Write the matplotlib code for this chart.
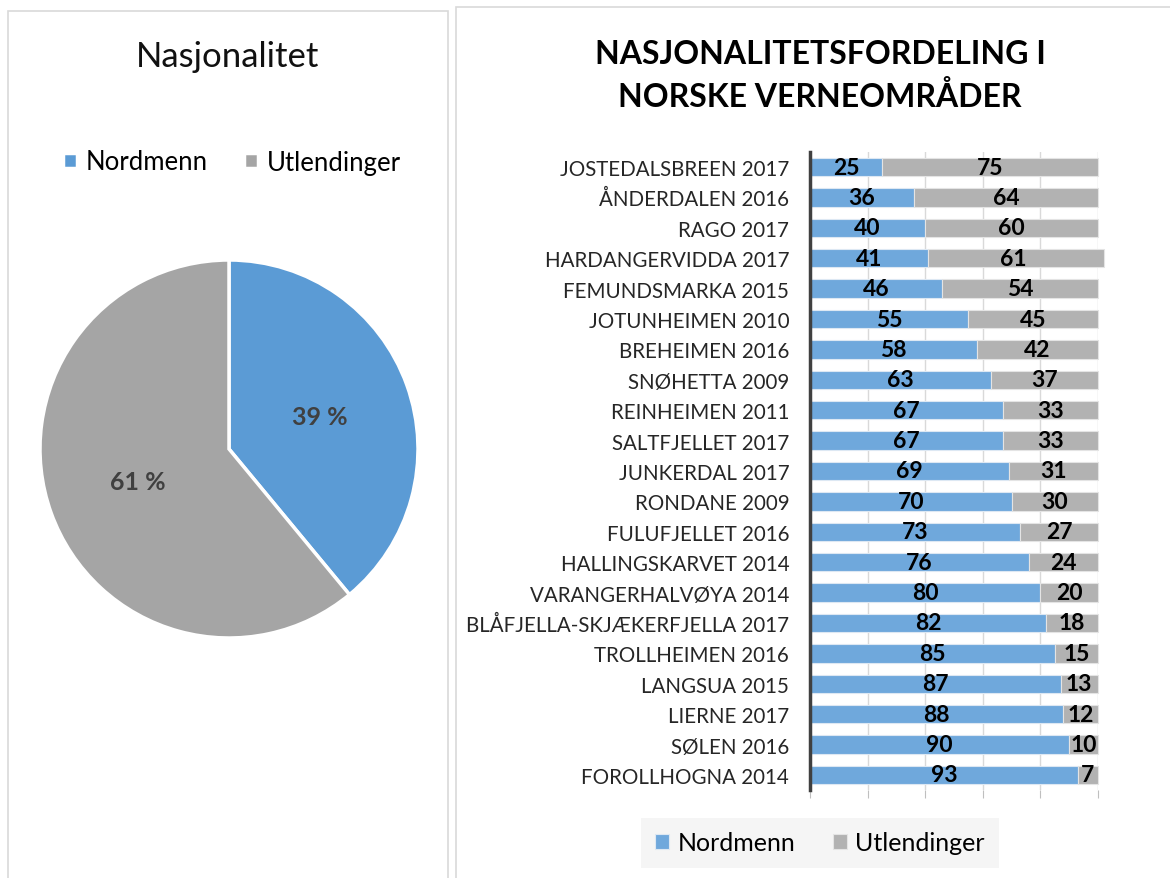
import matplotlib.pyplot as plt
from matplotlib.patches import Rectangle
import numpy as np

plt.rcParams["font.family"] = ["Lato", "DejaVu Sans"]

# pie
pie_labels = ["Nordmenn", "Utlendinger"]
pie_values = [39, 61]

# stacked bars, top to bottom
areas = ["JOSTEDALSBREEN 2017", "ÅNDERDALEN 2016", "RAGO 2017", "HARDANGERVIDDA 2017",
         "FEMUNDSMARKA 2015", "JOTUNHEIMEN 2010", "BREHEIMEN 2016", "SNØHETTA 2009",
         "REINHEIMEN 2011", "SALTFJELLET 2017", "JUNKERDAL 2017", "RONDANE 2009",
         "FULUFJELLET 2016", "HALLINGSKARVET 2014", "VARANGERHALVØYA 2014",
         "BLÅFJELLA-SKJÆKERFJELLA 2017", "TROLLHEIMEN 2016", "LANGSUA 2015",
         "LIERNE 2017", "SØLEN 2016", "FOROLLHOGNA 2014"]
nordmenn = [25, 36, 40, 41, 46, 55, 58, 63, 67, 67, 69, 70, 73, 76, 80, 82, 85, 87, 88, 90, 93]
utlendinger = [75, 64, 60, 61, 54, 45, 42, 37, 33, 33, 31, 30, 27, 24, 20, 18, 15, 13, 12, 10, 7]

W, H = 1170, 879
fig = plt.figure(figsize=(W / 100, H / 100), dpi=100)

# panel borders
fig.patches.append(Rectangle((8 / W, -0.01), 440 / W, 1 - 12 / H + 0.01, transform=fig.transFigure,
                             fill=False, edgecolor="#D9D9D9", lw=1.2))
fig.patches.append(Rectangle((456 / W, -0.01), 1 - 456 / W + 0.01, 1 - 8 / H + 0.01,
                             transform=fig.transFigure, fill=False, edgecolor="#D9D9D9", lw=1.2))

# ---- pie
pie_blue, pie_gray = "#5B9BD5", "#A5A5A5"
cx, cy, r = 229, 450, 189
ax1 = fig.add_axes([(cx - r) / W, 1 - (cy + r) / H, 2 * r / W, 2 * r / H])
wedges, _, autotexts = ax1.pie(pie_values, colors=[pie_blue, pie_gray], startangle=90, counterclock=False,
                               autopct=lambda p: f"{p:.0f} %", pctdistance=0.51,
                               wedgeprops=dict(edgecolor="white", linewidth=2.5),
                               textprops=dict(fontsize=18, fontweight="bold", color="#404040"))
ax1.set_xlim(-1, 1)
ax1.set_ylim(-1, 1)
ax1.axis("off")
fig.text(228 / W, 1 - 57 / H, "Nasjonalitet", ha="center", va="center", fontsize=25, color="#111111")
fig.legend(wedges, pie_labels, loc="center", bbox_to_anchor=(232 / W, 1 - 163 / H), ncol=2, frameon=False,
           fontsize=18.5, handlelength=0.55, handleheight=0.55, handletextpad=0.35, columnspacing=1.4)

# ---- stacked bars
bar_blue, bar_gray = "#6FA8DC", "#B2B2B2"
ax2 = fig.add_axes([810 / W, 1 - 791.2 / H, 288 / W, 638.4 / H])
y = np.arange(len(areas))
b1 = ax2.barh(y, nordmenn, height=0.6, color=bar_blue, edgecolor="#DDE8F3", lw=0.8, clip_on=False,
              label="Nordmenn", zorder=2)
b2 = ax2.barh(y, utlendinger, left=nordmenn, height=0.6, color=bar_gray, edgecolor="#E4E4E4", lw=0.8,
              clip_on=False, label="Utlendinger", zorder=2)
for bars in (b1, b2):
    ax2.bar_label(bars, label_type="center", fontsize=16.5, fontweight="bold", color="black")
ax2.set_ylim(len(areas) - 0.5, -0.5)
ax2.set_xlim(0, 100)
ax2.set_yticks(y)
ax2.set_yticklabels(areas, fontsize=14.8, color="#262626")
ax2.set_xticks([0, 20, 40, 60, 80, 100])
ax2.tick_params(axis="x", labelbottom=False, length=6, color="#BFBFBF")
ax2.tick_params(axis="y", length=0, pad=15)
ax2.grid(axis="x", color="#D9D9D9", lw=1, zorder=0)
ax2.set_axisbelow(True)
for s in ["top", "right", "bottom"]:
    ax2.spines[s].set_visible(False)
ax2.spines["left"].set_color("#404040")
ax2.spines["left"].set_linewidth(2.5)
ax2.spines["left"].set_zorder(3)

fig.text(820 / W, 1 - 76 / H, "NASJONALITETSFORDELING I\nNORSKE VERNEOMRÅDER", ha="center", va="center",
         fontsize=23, fontweight="bold", color="black", linespacing=1.45)

leg = fig.legend(handles=[b1, b2], loc="center", bbox_to_anchor=(820 / W, 1 - 844 / H), ncol=2,
                 fontsize=18, handlelength=0.55, handleheight=0.55, handletextpad=0.35, columnspacing=1.5,
                 frameon=True, fancybox=False, facecolor="#F5F5F5", edgecolor="none", framealpha=1,
                 borderpad=0.55)

fig.savefig("out.png", dpi=100, facecolor="white")
